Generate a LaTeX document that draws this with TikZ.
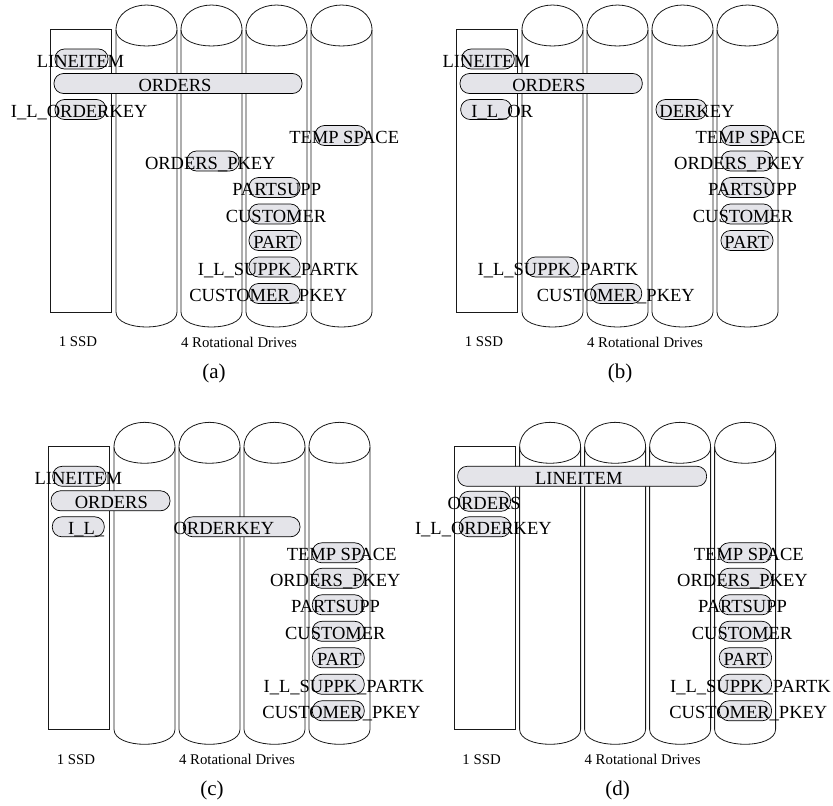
\documentclass[tikz,border=0pt]{standalone}
\usepackage{fontspec}
\setmainfont{Liberation Serif}
\definecolor{pillgray}{RGB}{228,228,233}

% one panel: SSD box, four drives, the tables placed on them
\newcommand{\layout}[4]{%
  \begin{scope}[shift={(#1,#2)}]
    \draw[ssd] (50.7,29.3) rectangle (111.3,312.3);
    \foreach \cx in {146.5,211.5,276.5,341.5} {
      \draw[disk] ({\cx-30.5},312) -- ({\cx-30.5},30)
        .. controls ({\cx-30.5},-3.3) and ({\cx+30.5},-3.3) .. ({\cx+30.5},30)
        -- ({\cx+30.5},312)
        .. controls ({\cx+30.5},332) and ({\cx-30.5},332) .. ({\cx-30.5},312);
      \draw[disk] ({\cx+30.5},30)
        .. controls ({\cx+30.5},51.3) and ({\cx-30.5},51.3) .. ({\cx-30.5},30);
    }
    \node[foot] (#3-ssd) at (78,342) {1 SSD};
    \node[foot] (#3-hdd) at (239,342) {4 Rotational Drives};
    \node[capt] (#3-cap) at (214,373) {(#3)};
    \foreach \nm/\xl/\xr/\yy/\tx/\txt in {#4} {
      \node[pill, minimum width={\xr-\xl}] (#3-\nm) at ({(\xl+\xr)/2},\yy) {};
      \node[tname] (#3-\nm-t) at (\tx,{\yy+2}) {\txt};
    }
  \end{scope}}

\begin{document}
\begin{tikzpicture}[
  x=1pt, y=-1pt,
  disk/.style={line width=0.8pt, black!90},
  ssd/.style={draw, line width=0.8pt, black!90},
  pill/.style={draw, line width=0.7pt, fill=pillgray, rounded corners=9.5pt, minimum height=20pt, inner sep=0pt},
  tname/.style={font=\fontsize{18.5}{20}\selectfont, text height=12.3pt, text depth=0pt, inner sep=0pt},
  foot/.style={font=\fontsize{14.8}{16}\selectfont, inner sep=0pt},
  capt/.style={font=\fontsize{21}{24}\selectfont, inner sep=0pt}
]
  \useasboundingbox (0,0) rectangle (833,806);

  \layout{0}{0}{a}{
    li/55/108/59/80.5/LINEITEM,
    or/54/302/83.5/175/ORDERS,
    lok/55/106/109.5/79.2/I\_L\_ORDERKEY,
    tmp/315/367/135.5/344.2/TEMP SPACE,
    opk/187/239/161/210.3/ORDERS\_PKEY,
    ps/249/300/187.5/276.7/PARTSUPP,
    cu/249/300/214/276/CUSTOMER,
    pa/249/301/240.5/275.5/PART,
    lsp/249/300/267/278.3/I\_L\_SUPPK\_PARTK,
    cpk/249/300/293.5/268.3/CUSTOMER\_PKEY}

  \layout{406}{0}{b}{
    li/55.7/108.3/59/80.3/LINEITEM,
    or/54/236.3/83.5/142.8/ORDERS,
    lor/54.7/105.7/109.5/96.2/I\_L\_OR,
    dk/250/300.7/109.5/291/DERKEY,
    tmp/315/367/135.5/344.5/TEMP SPACE,
    opk/315/367/161/333.5/ORDERS\_PKEY,
    ps/315/367/187.5/346.5/PARTSUPP,
    cu/315/367/214/337/CUSTOMER,
    pa/315/367/240.5/340.7/PART,
    lsp/120/172.3/267/152/I\_L\_SUPPK\_PARTK,
    cpk/184.7/235.7/293.5/209.8/CUSTOMER\_PKEY}

  \layout{-2}{417.3}{c}{
    li/54.7/108/59/80.3/LINEITEM,
    or/53/172/83.5/113.3/ORDERS,
    il/54.3/106.3/109.5/88.2/I\_L\_,
    ok/185.3/302/109.5/226/ORDERKEY,
    tmp/314.3/366.3/135.5/343.7/TEMP SPACE,
    opk/314.3/366.3/161/337.3/ORDERS\_PKEY,
    ps/314.3/366.3/187.5/337.5/PARTSUPP,
    cu/314.3/366.3/214/337.3/CUSTOMER,
    pa/314.3/366.3/240.5/341.3/PART,
    lsp/314.3/366.3/267/346/I\_L\_SUPPK\_PARTK,
    cpk/314.3/366.3/293.5/343.4/CUSTOMER\_PKEY}

  \layout{403.6}{417.3}{d}{
    li/54/303/59/175.2/LINEITEM,
    or/55.7/107/84/80.6/ORDERS,
    lok/55.7/107/109.5/79.8/I\_L\_ORDERKEY,
    tmp/315.7/368/135.5/345.2/TEMP SPACE,
    opk/315.7/368/161/338.9/ORDERS\_PKEY,
    ps/315.7/368/187.5/338.9/PARTSUPP,
    cu/315.7/368/214/338.4/CUSTOMER,
    pa/315.7/368/240.5/342.2/PART,
    lsp/315.7/368/267/346.9/I\_L\_SUPPK\_PARTK,
    cpk/315.7/368/293.5/344.7/CUSTOMER\_PKEY}
\end{tikzpicture}
\end{document}
